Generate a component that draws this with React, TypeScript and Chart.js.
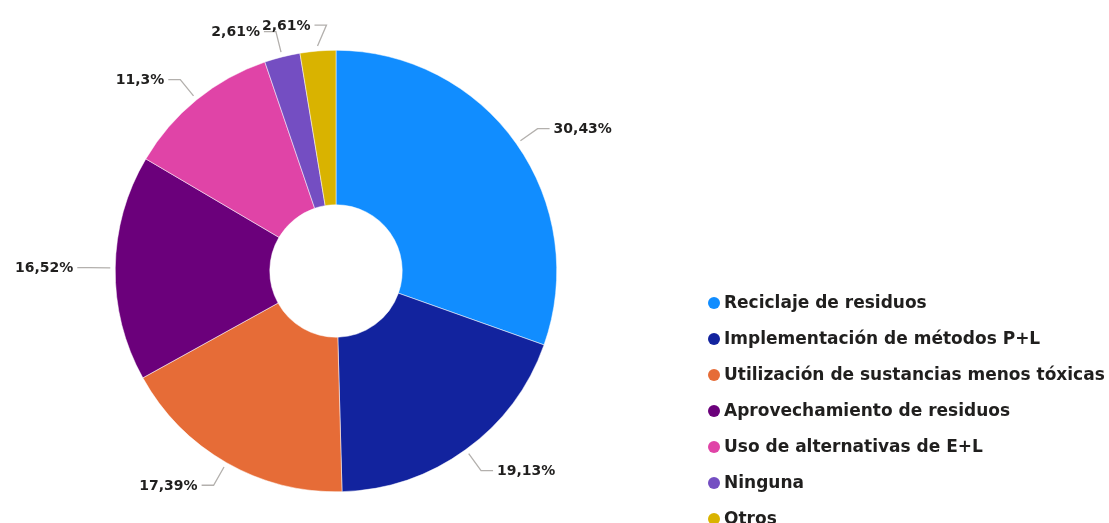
import React, { useEffect, useRef } from "react";
import { Chart, registerables } from "chart.js";

Chart.register(...registerables);

const categories = [
  "Reciclaje de residuos",
  "Implementación de métodos P+L",
  "Utilización de sustancias menos tóxicas",
  "Aprovechamiento de residuos",
  "Uso de alternativas de E+L",
  "Ninguna",
  "Otros",
];
const values = [30.43, 19.13, 17.39, 16.52, 11.3, 2.61, 2.61];
const colors = ["#118DFF", "#12239E", "#E66C37", "#6B007B", "#E044A7", "#744EC2", "#D9B300"];

const FONT = '"DejaVu Sans", "Noto Sans", sans-serif';
const TEXT_COLOR = "#201F1E";

const fmt = (v: number) => String(v).replace(".", ",") + "%";

const labelPlugin = {
  id: "outLabels",
  afterDatasetsDraw(chart: any) {
    const ctx = chart.ctx;
    const meta = chart.getDatasetMeta(0);
    ctx.save();
    ctx.font = `bold 14px ${FONT}`;
    ctx.textBaseline = "middle";
    const placed: any[] = [];
    meta.data.forEach((arc: any, i: number) => {
      const { x, y, startAngle, endAngle, outerRadius } = arc.getProps(
        ["x", "y", "startAngle", "endAngle", "outerRadius"],
        true
      );
      const mid = (startAngle + endAngle) / 2;
      const c = Math.cos(mid);
      const s = Math.sin(mid);
      const x0 = x + c * (outerRadius + 5);
      const y0 = y + s * (outerRadius + 5);
      let x1 = x + c * (outerRadius + 26);
      const y1 = y + s * (outerRadius + 26);
      const right = c >= 0;
      const text = fmt(values[i]);
      const w = ctx.measureText(text).width;
      const h = 16;
      const seg = 12;
      let tx = right ? x1 + seg + 4 : x1 - seg - 4 - w;
      // simple collision avoidance: shift toward center
      for (const p of placed) {
        if (p.right !== right) continue;
        const overlapX = tx < p.tx + p.w && tx + w > p.tx;
        const overlapY = Math.abs(y1 - p.y) < h;
        if (overlapX && overlapY) {
          if (!right) {
            tx = p.tx + p.w + 2;
            x1 = tx + w + 4 + seg;
          } else {
            tx = p.tx - w - 2;
            x1 = tx - 4 - seg;
          }
        }
      }
      placed.push({ tx, w, y: y1, right });
      const x2 = right ? x1 + seg : x1 - seg;
      ctx.strokeStyle = "#B3B0AD";
      ctx.lineWidth = 1.3;
      ctx.beginPath();
      ctx.moveTo(x0, y0);
      ctx.lineTo(x1, y1);
      ctx.lineTo(x2, y1);
      ctx.stroke();
      ctx.fillStyle = TEXT_COLOR;
      ctx.textAlign = "left";
      ctx.fillText(text, tx, y1 + 1);
    });
    ctx.restore();
  },
};

const legendPlugin = {
  id: "sideLegend",
  afterDraw(chart: any) {
    const ctx = chart.ctx;
    ctx.save();
    ctx.font = `bold 17px ${FONT}`;
    ctx.textBaseline = "middle";
    ctx.textAlign = "left";
    const startX = 714;
    const startY = 303;
    const step = 36;
    categories.forEach((name, i) => {
      const yy = startY + i * step;
      ctx.fillStyle = colors[i];
      ctx.beginPath();
      ctx.arc(startX, yy, 6, 0, Math.PI * 2);
      ctx.fill();
      ctx.fillStyle = TEXT_COLOR;
      ctx.fillText(name, startX + 10, yy + 1);
    });
    ctx.restore();
  },
};

export default function App() {
  const ref = useRef<HTMLCanvasElement | null>(null);
  useEffect(() => {
    document.body.style.margin = "0";
    if (!ref.current) return;
    const chart = new Chart(ref.current, {
      type: "doughnut",
      data: {
        labels: categories,
        datasets: [
          {
            data: values,
            backgroundColor: colors,
            borderColor: "#ffffff",
            borderWidth: 0.5,
            hoverOffset: 0,
          },
        ],
      },
      options: {
        animation: false,
        responsive: true,
        maintainAspectRatio: false,
        cutout: "30%",
        layout: { padding: { top: 50, bottom: 31, left: 0, right: 437 } },
        plugins: {
          legend: { display: false },
          tooltip: { enabled: false },
        },
      },
      plugins: [labelPlugin, legendPlugin],
    });
    return () => chart.destroy();
  }, []);
  return (
    <div style={{ position: "absolute", left: 0, top: 0, width: 1109, height: 523, background: "#fff" }}>
      <canvas ref={ref} />
    </div>
  );
}
